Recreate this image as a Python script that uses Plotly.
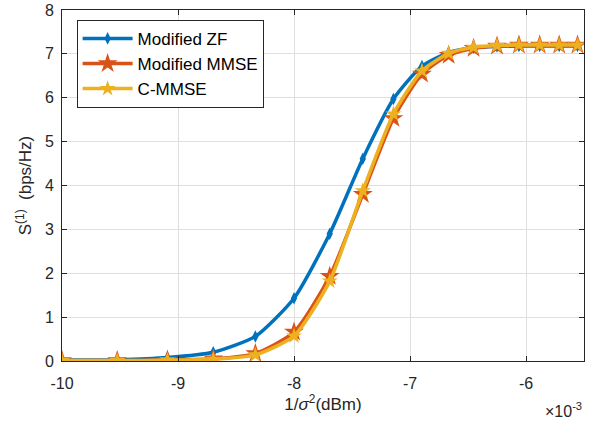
import plotly.graph_objects as go

# x values in units of 1e-3 (1/sigma^2, dBm)
x_vals = [-10.000, -9.524, -9.091, -8.696, -8.333, -8.000, -7.692, -7.407, -7.143,
          -6.897, -6.667, -6.452, -6.250, -6.061, -5.882, -5.714, -5.556]
zf = [0.02, 0.03, 0.08, 0.20, 0.56, 1.43, 2.90, 4.61, 5.97, 6.72, 7.03, 7.14, 7.17, 7.18, 7.18, 7.18, 7.18]
mmse = [0.01, 0.01, 0.02, 0.05, 0.17, 0.66, 1.93, 3.80, 5.53, 6.54, 6.97, 7.13, 7.18, 7.20, 7.20, 7.20, 7.20]
cmmse = [0.01, 0.01, 0.02, 0.04, 0.14, 0.57, 1.82, 3.88, 5.63, 6.61, 7.01, 7.15, 7.19, 7.20, 7.20, 7.20, 7.20]
series_names = ["Modified ZF", "Modified MMSE", "C-MMSE"]
x_ticks = [-10, -9, -8, -7, -6]
y_ticks = [0, 1, 2, 3, 4, 5, 6, 7, 8]

FONT = "Liberation Sans, Arial, Helvetica, sans-serif"
AX = "#262626"

fig = go.Figure()
fig.add_trace(go.Scatter(x=x_vals, y=zf, name=series_names[0], mode="lines+markers",
                         line=dict(color="#0072BD", width=3.5, shape="spline", smoothing=0.6),
                         marker=dict(symbol="diamond-tall", size=9, color="#0072BD")))
fig.add_trace(go.Scatter(x=x_vals, y=mmse, name=series_names[1], mode="lines+markers",
                         line=dict(color="#D95319", width=3.5, shape="spline", smoothing=0.6),
                         marker=dict(symbol="star", size=15, color="#D95319")))
fig.add_trace(go.Scatter(x=x_vals, y=cmmse, name=series_names[2], mode="lines+markers",
                         line=dict(color="#EDB120", width=3.5, shape="spline", smoothing=0.6),
                         marker=dict(symbol="star", size=12, color="#EDB120")))

axis_common = dict(showline=True, linecolor=AX, linewidth=1, mirror="ticks",
                   ticks="inside", ticklen=5, tickcolor=AX,
                   showgrid=True, gridcolor="#dfdfdf", gridwidth=1,
                   zeroline=False, tickfont=dict(family=FONT, size=16, color=AX),
                   automargin=False)

fig.update_xaxes(range=[-10, -5.5], tickvals=x_ticks, ticktext=[str(t) for t in x_ticks],
                 ticklabelstandoff=8,
                 title=dict(text="1/<i>σ</i><sup>2</sup>(dBm)", font=dict(family=FONT, size=17, color=AX),
                            standoff=4),
                 **axis_common)
fig.update_yaxes(range=[0, 8], tickvals=y_ticks, ticktext=[str(t) for t in y_ticks],
                 ticklabelstandoff=4,
                 title=dict(text="S<sup>(1)</sup>  (bps/Hz)", font=dict(family=FONT, size=17, color=AX),
                            standoff=8),
                 **axis_common)

fig.add_annotation(text="×10<sup>-3</sup>", xref="paper", yref="paper", x=1.0, y=-0.105,
                   xanchor="right", yanchor="top", showarrow=False,
                   font=dict(family=FONT, size=16, color=AX))

fig.update_layout(
    width=592, height=425,
    margin=dict(l=62, r=8, t=10, b=64, autoexpand=False),
    plot_bgcolor="white", paper_bgcolor="white",
    font=dict(family=FONT, size=16, color=AX),
    showlegend=True,
    legend=dict(x=0.028, y=0.972, xanchor="left", yanchor="top",
                bgcolor="white", bordercolor=AX, borderwidth=1,
                font=dict(family=FONT, size=17, color="black"),
                tracegroupgap=0, itemwidth=50),
)

# remove the default 8px page margin so the figure fills the 592x425 window exactly
fig.write_html("out.html", config={"displayModeBar": False},
               post_script="document.body.style.margin='0';document.body.style.overflow='hidden';")
